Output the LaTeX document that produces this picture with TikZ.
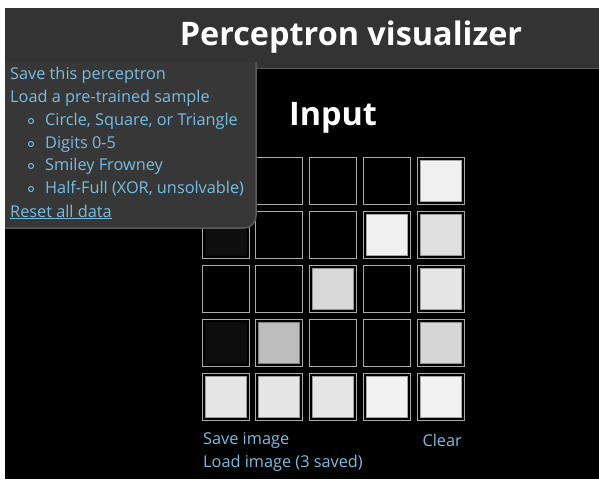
\documentclass[tikz,border=0pt]{standalone}
\usepackage{fontspec}
\setmainfont{Open Sans}
\usetikzlibrary{positioning}
\definecolor{hdrbg}{RGB}{51,51,51}
\definecolor{menubg}{RGB}{55,55,55}
\definecolor{menuedge}{RGB}{90,90,90}
\definecolor{linkc}{RGB}{118,190,226}
\definecolor{celledge}{RGB}{170,170,170}

\begin{document}
\begin{tikzpicture}[x=1pt, y=-1pt,
  heading/.style={text=white, inner sep=0pt, font=\fontsize{32.4}{38}\selectfont\bfseries},
  link/.style={text=linkc, inner sep=0pt, anchor=west, font=\fontsize{16.3}{19}\selectfont},
  cell/.style={draw=celledge, line width=1pt, minimum size=47pt, inner sep=0pt},
  pix/.style={line width=1pt, minimum size=41pt, inner sep=0pt}
]
\useasboundingbox (0,0) rectangle (599,479);
\fill[white] (0,0) rectangle (599,479);
\fill[black] (5,68) rectangle (599,479);
\fill[hdrbg] (5,8) rectangle (599,68);
\draw[menuedge] (256,68.5) -- (599,68.5);
\node[heading] (title) at (351,37) {Perceptron visualizer};
\node[heading] (input) at (333,118) {Input};

% 5x5 input grid, values = brightness in percent
\foreach \row [count=\r from 0] in {{0,0,0,0,94},{6,0,0,94,88},{0,0,85,0,90},{5,74,0,0,84},{90,90,90,95,95}}
  \foreach \v [count=\c from 0] in \row {
    \node[cell] (c\r\c) at ({225.5+53.75*\c},{181+54*\r}) {};
    \ifnum\v>0
      \node[pix, fill=white!\v!black, draw=white!\v!black!68!black] (p\r\c) at (c\r\c) {};
    \fi
  }

% sample menu
\fill[menubg] (5,62) -- (256,62) [rounded corners=12pt] -- (256,228) [sharp corners] -- (5,228) -- cycle;
\draw[menuedge, line width=1.5pt] (256,62) [rounded corners=12pt] -- (256,228) -- (5,228);
\node[link] (save) at (10,75) {Save this perceptron};
\node[link] (load) at (10,98) {Load a pre-trained sample};
\node[link] (shape) at (45,121) {Circle, Square, or Triangle};
\node[link] (digit) at (45,144) {Digits 0-5};
\node[link] (smile) at (45,166) {Smiley Frowney};
\node[link] (half) at (45,189) {Half-Full (XOR, unsolvable)};
\node[link] (reset) at (10,212) {\underline{Reset all data}};
\foreach \y in {121,144,166,189}
  \draw[linkc, line width=1pt] (31,\y) circle (2.5pt);

\node[link] (saveimg) at (203,440) {Save image};
\node[link, anchor=east] (clear) at (462,440) {Clear};
\node[link] (loadimg) at (203,463) {Load image (3 saved)};
\end{tikzpicture}
\end{document}
